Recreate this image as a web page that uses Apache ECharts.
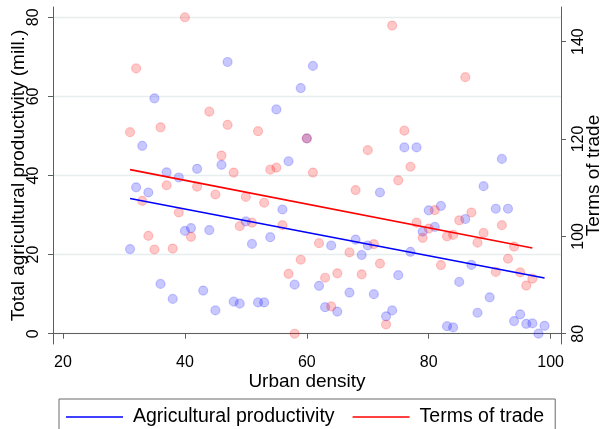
<!DOCTYPE html>
<html>
<head>
<meta charset="utf-8">
<script src="https://cdn.jsdelivr.net/npm/echarts@6/dist/echarts.min.js"></script>
<style>html,body{margin:0;padding:0;background:#fff;}#c{width:607px;height:429px;}</style>
</head>
<body>
<div id="c"></div>
<script>
// Agricultural productivity (left axis) vs urban density
const agriX = [31,32,33,34,35,36,37,38,39,40,41,42,43,44,45,46,47,48,49,50,51,52,53,54,55,56,57,58,59,60,61,62,63,64,65,67,68,69,70,71,72,73,74,75,76,77,78,79,80,81,82,83,84,85,86,87,88,89,90,91,92,93,94,95,96,97,98,99];
const agriY = [21.4,37.0,47.5,35.7,59.5,12.6,40.8,8.8,39.5,26.0,26.7,41.7,10.9,26.2,5.9,42.7,68.7,8.1,7.6,28.4,22.7,7.9,7.9,24.4,56.7,31.4,43.6,12.4,62.1,49.4,67.7,12.1,6.7,22.3,5.6,10.4,23.8,19.9,22.3,10.0,35.7,4.4,5.9,14.8,47.1,20.7,47.1,25.8,31.2,27.0,32.3,1.9,1.6,13.1,29.0,17.4,5.3,37.3,9.2,31.6,44.2,31.6,3.2,4.9,2.5,2.6,0.0,2.0];
// Terms of trade (right axis) vs urban density
const totX = [31,32,33,34,35,36,37,38,39,40,41,42,44,45,46,47,48,49,50,51,52,53,54,55,56,57,58,59,60,61,62,63,64,65,67,68,69,70,71,72,73,74,75,76,77,78,79,80,81,82,83,84,85,86,87,88,89,91,92,93,94,95,96,97];
const totY = [121.4,134.5,107.3,100.1,97.3,122.4,110.5,97.5,104.9,145.0,99.9,110.2,125.6,108.6,116.6,122.9,113.1,102.1,108.1,102.8,121.6,106.9,113.7,114.1,102.3,92.3,80.0,95.2,120.1,113.1,98.6,91.5,85.6,92.4,96.7,109.5,92.2,117.7,98.4,94.4,81.9,143.3,111.5,121.7,114.3,102.8,99.7,101.6,105.4,94.1,100.0,100.3,103.3,132.7,104.9,98.7,100.7,92.7,102.3,95.4,97.9,92.6,89.9,91.3];
// Fitted lines (endpoints)
const agriFitX = [31, 99];
const agriFitY = [34.2, 14.1];
const totFitX = [31, 97];
const totFitY = [113.7, 97.6];
// Tick labels
const xTicks = [20,40,60,80,100];
const yLeftTicks = [0,20,40,60,80];
const yRightTicks = [80,100,120,140];

const zip = (a,b) => a.map((v,i)=>[v,b[i]]);
const FONT = 'Liberation Sans, Arial, sans-serif';
const AX = '#5e5e5e';

const chart = echarts.init(document.getElementById('c'), null, {renderer:'canvas'});
chart.setOption({
  backgroundColor:'#fff',
  animation:false,
  textStyle:{fontFamily:FONT},
  grid:{left:53,right:46,top:7,bottom:85,containLabel:false,outerBoundsMode:'none'},
  legend:{
    left:59, top:399,
    data:['Agricultural productivity','Terms of trade'],
    icon:'rect', itemWidth:57, itemHeight:1.5, itemGap:18,
    borderColor:'#6b6b6b', borderWidth:1,
    padding:[8,11,30,7],
    textStyle:{fontFamily:FONT,fontSize:19.5,color:'#000',padding:[0,0,0,5]}
  },
  xAxis:{
    type:'value', min:18.36, max:101.7,
    name:'Urban density', nameLocation:'middle', nameGap:28, nameMoveOverlap:false,
    nameTextStyle:{fontFamily:FONT,fontSize:19,color:'#000'},
    axisLine:{show:true,lineStyle:{color:AX,width:1}},
    axisTick:{show:true,customValues:xTicks,length:5,lineStyle:{color:AX}},
    axisLabel:{customValues:xTicks,fontSize:16,color:'#000',margin:11,fontFamily:FONT},
    splitLine:{show:false}
  },
  yAxis:[{
    type:'value', min:-2.6, max:82.6, position:'left',
    name:'Total agricultural productivity (mill.)', nameLocation:'middle', nameGap:25, nameMoveOverlap:false,
    nameTextStyle:{fontFamily:FONT,fontSize:19,color:'#000'},
    axisLine:{show:true,lineStyle:{color:AX,width:1}},
    axisTick:{show:true,customValues:yLeftTicks,length:5,lineStyle:{color:AX}},
    axisLabel:{customValues:yLeftTicks,rotate:90,fontSize:16,color:'#000',margin:11,fontFamily:FONT},
    splitLine:{show:true,lineStyle:{color:'#e6eef0',width:1.3}}
  },{
    type:'value', min:77.89, max:147.11, position:'right',
    name:'Terms of trade', nameLocation:'middle', nameGap:23, nameRotate:90, nameMoveOverlap:false,
    nameTextStyle:{fontFamily:FONT,fontSize:19,color:'#000'},
    axisLine:{show:true,lineStyle:{color:AX,width:1}},
    axisTick:{show:true,customValues:yRightTicks,length:5,lineStyle:{color:AX}},
    axisLabel:{customValues:yRightTicks,rotate:90,fontSize:16,color:'#000',margin:10,fontFamily:FONT},
    splitLine:{show:false}
  }],
  series:[
    {name:'agri pts',type:'scatter',yAxisIndex:0,data:zip(agriX,agriY),symbolSize:9,
     itemStyle:{color:'rgba(0,0,255,0.27)',borderColor:'rgba(0,0,255,0.25)',borderWidth:1.2},z:2},
    {name:'tot pts',type:'scatter',yAxisIndex:1,data:zip(totX,totY),symbolSize:9,
     itemStyle:{color:'rgba(255,0,0,0.27)',borderColor:'rgba(255,0,0,0.25)',borderWidth:1.2},z:3},
    {name:'Agricultural productivity',type:'line',yAxisIndex:0,data:zip(agriFitX,agriFitY),
     symbol:'none',color:'#0000ff',lineStyle:{color:'#0000ff',width:1.6},z:5},
    {name:'Terms of trade',type:'line',yAxisIndex:1,data:zip(totFitX,totFitY),
     symbol:'none',color:'#ff0000',lineStyle:{color:'#ff0000',width:1.6},z:5}
  ]
});
</script>
</body>
</html>
